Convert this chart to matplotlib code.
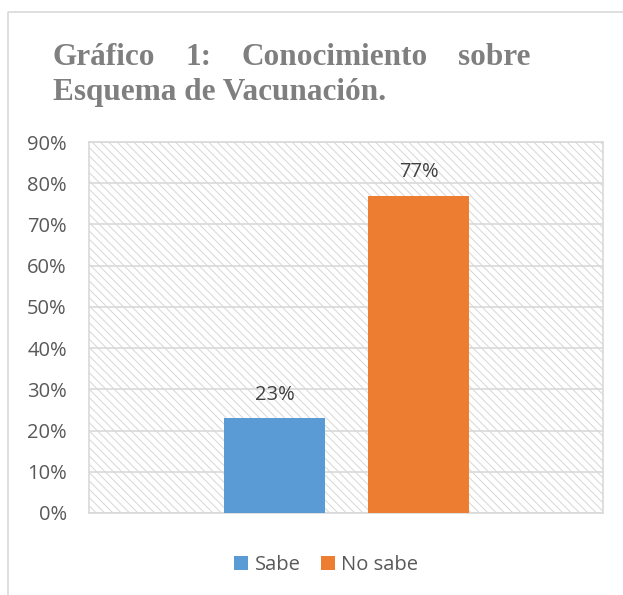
import matplotlib
matplotlib.use('Agg')
import matplotlib.pyplot as plt
from matplotlib.patches import Rectangle, Patch
from matplotlib.lines import Line2D

# data
series = ['Sabe', 'No sabe']
values = [0.23, 0.77]
colors = ['#5b9bd5', '#ed7d31']
yticks = [0, 0.1, 0.2, 0.3, 0.4, 0.5, 0.6, 0.7, 0.8, 0.9]
title_line1 = ['Gráfico', '1:', 'Conocimiento', 'sobre']
title_line2 = 'Esquema de Vacunación.'

W, H = 623, 595
LABEL_FONT = 'Open Sans'
GRID = '#d9d9d9'


def main():
    plt.rcParams['hatch.linewidth'] = 0.7
    fig = plt.figure(figsize=(W / 100, H / 100), dpi=100)

    # outer chart border (left and top edges)
    fig.add_artist(Line2D([8 / W, 8 / W, 1.0], [0.0, 1 - 12 / H, 1 - 12 / H],
                          transform=fig.transFigure, color=GRID, lw=1.2))

    ax = fig.add_axes([89 / W, 1 - 513 / H, (603 - 89) / W, (513 - 142) / H])

    # hatched plot area background
    ax.add_patch(Rectangle((0, 0), 1, 1, transform=ax.transAxes,
                           facecolor='white', edgecolor='#d6d6d6', lw=0,
                           hatch='\\\\\\\\', zorder=0))

    xs = [-0.5, 0.5]
    for x, v, c, name in zip(xs, values, colors, series):
        ax.bar(x, v, width=0.70, color=c, zorder=3, label=name)
        ax.annotate('%d%%' % round(v * 100), (x, v), xytext=(0, 17),
                    textcoords='offset points', ha='center', va='center',
                    fontsize=14.5, family=LABEL_FONT, color='#404040')

    ax.set_xlim(-1.79, 1.78)
    ax.set_ylim(0, 0.9)
    ax.set_yticks(yticks)
    ax.set_yticklabels(['%d%%' % round(t * 100) for t in yticks],
                       family=LABEL_FONT, fontsize=14.5, color='#595959')
    ax.set_xticks([])
    ax.tick_params(axis='y', length=0, pad=16)
    ax.grid(axis='y', color=GRID, lw=1.2, zorder=1)
    ax.set_axisbelow(True)
    for s in ax.spines.values():
        s.set_color(GRID)
        s.set_linewidth(1.2)

    handles = [Patch(facecolor=c, label=n) for c, n in zip(colors, series)]
    fig.legend(handles=handles, loc='center', bbox_to_anchor=(326 / W, 1 - 565 / H),
               ncol=2, frameon=False, handlelength=0.7, handleheight=0.7,
               handletextpad=0.3, columnspacing=1.0,
               prop={'family': LABEL_FONT, 'size': 14.5}, labelcolor='#595959')

    # justified title, line 1
    tstyle = dict(family='Liberation Serif', weight='bold', fontsize=22.5,
                  color='#7f7f7f', va='baseline')
    fig.canvas.draw()
    r = fig.canvas.get_renderer()
    words = [fig.text(0, 1 - 65 / H, w, **tstyle) for w in title_line1]
    widths = [t.get_window_extent(r).width for t in words]
    left, right = 53, 530
    gap = (right - left - sum(widths)) / (len(words) - 1)
    x = left
    for t, wd in zip(words, widths):
        t.set_x(x / W)
        x += wd + gap
    fig.text(53 / W, 1 - 100 / H, title_line2, **tstyle)

    fig.savefig('out.png', dpi=100)


if __name__ == '__main__':
    main()
